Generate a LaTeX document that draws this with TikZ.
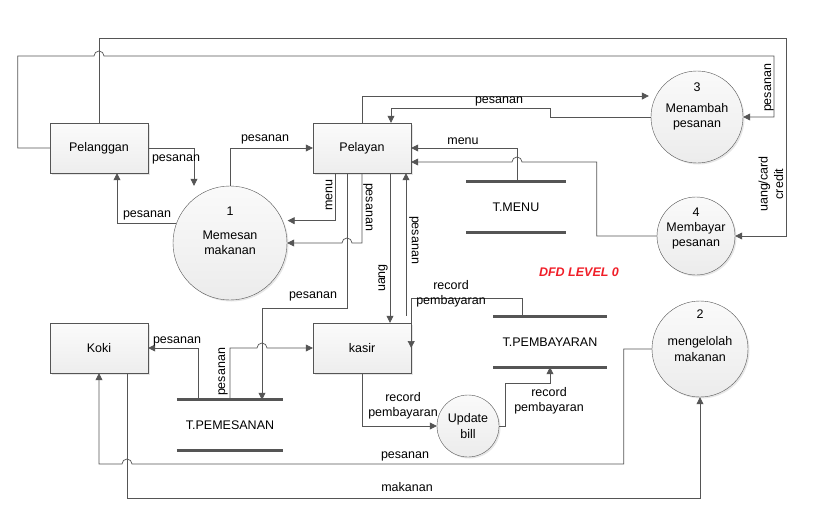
\documentclass[tikz,border=0pt]{standalone}
\usepackage{fontspec}
\setmainfont{Liberation Sans}
\usepackage{xcolor}
\usetikzlibrary{arrows.meta,shadows,calc,positioning}

\definecolor{linegray}{HTML}{555555}
\definecolor{dfdred}{HTML}{F01E28}

\tikzset{
	entity/.style={draw=linegray, minimum width=98pt, minimum height=50pt,
		top color=gray!3, bottom color=gray!14,
		drop shadow={opacity=.2, shadow xshift=1.5pt, shadow yshift=-1.5pt}},
	process/.style={circle, draw=linegray, align=center, inner sep=0pt, minimum size=#1,
		top color=gray!4, bottom color=gray!15,
		drop shadow={opacity=.2, shadow xshift=1.5pt, shadow yshift=-1.5pt}},
	store/.style={minimum width=#1, minimum height=50pt, inner sep=0pt},
	storeline/.style={draw=linegray, line width=3pt},
	flow/.style={draw=linegray, line width=0.7pt, -{Triangle[length=7pt,width=7pt]}},
	lbl/.style={inner sep=0pt, align=center}
}

\begin{document}
\begin{tikzpicture}[x=1pt, y=-1pt, every node/.style={font=\fontsize{12.5pt}{15.5pt}\selectfont}]
		\useasboundingbox (0,0) rectangle (822,527);

		% entities
		\node[entity] (pelanggan) at (99,148) {Pelanggan};
		\node[entity] (pelayan) at (362,148) {Pelayan};
		\node[entity] (koki) at (99,348) {Koki};
		\node[entity] (kasir) at (362,348) {kasir};

		% processes
		\node[process=114pt] (p1) at (230,243) {Memesan\\makanan};
		\node (p1num) at (230,211) {1};
		\node[process=92pt] (p3) at (697,117) {Menambah\\pesanan};
		\node (p3num) at (697,87) {3};
		\node[process=78pt] (p4) at (696,236) {Membayar\\pesanan};
		\node (p4num) at (696,212) {4};
		\node[process=96pt] (p2) at (700,349) {mengelolah\\makanan};
		\node (p2num) at (700,314) {2};
		\node[process=62pt] (bill) at (468,426) {Update\\bill};

		% data stores
		\node[store=99pt] (tmenu) at (516,207) {T.MENU};
		\draw[storeline] (tmenu.north west) -- (tmenu.north east);
		\draw[storeline] (tmenu.south west) -- (tmenu.south east);
		\node[store=106pt] (tpemesanan) at (230,425) {T.PEMESANAN};
		\draw[storeline] (tpemesanan.north west) -- (tpemesanan.north east);
		\draw[storeline] (tpemesanan.south west) -- (tpemesanan.south east);
		\node[store=113pt] (tpembayaran) at (550,342) {T.PEMBAYARAN};
		\draw[storeline] (tpembayaran.north west) -- (tpembayaran.north east);
		\draw[storeline] (tpembayaran.south west) -- (tpembayaran.south east);

		% flows
		\draw[flow] (pelanggan.east) -| ([xshift=-36pt]p1.north);
		\draw[flow] (p1.160) -| ([xshift=18pt]pelanggan.south);
		\draw[flow] (p1.north) |- (pelayan.west);
		\draw[flow, shorten >=5pt] ([xshift=-27pt]pelayan.south) |- (p1.23);
		\draw[flow] (pelayan.south) |- (352,243) arc[start angle=0, end angle=-180, radius=5] -- (p1.east);
		\draw[flow] ([xshift=-15pt]pelayan.south) -- ++(0,135) -| ([xshift=32pt]tpemesanan.north);
		\draw[flow] ([xshift=28pt]pelayan.south) -- ([xshift=28pt]kasir.north);
		\draw[flow, shorten <=7pt] ([xshift=44pt]kasir.north) -- ([xshift=44pt]pelayan.south);
		\draw[flow] ([xshift=-28pt]tpembayaran.north) -- ++(0,-18) -| (kasir.east);
		\draw[flow] (kasir.south) |- (bill.west);
		\draw[flow] (bill.east) -- ++(6,0) -- ++(0,-43) -| (tpembayaran.south);
		\draw[flow] ([xshift=-32pt]tpemesanan.north) |- (koki.east);
		\draw[flow] (tpemesanan.north) |- (257,348) arc[start angle=180, end angle=360, radius=5] -- (kasir.west);
		\draw[flow] ([xshift=28pt]koki.south) -- ++(0,125) -| (p2.south);
		\draw[flow] (p2.west) -- ++(-28,0) |- (132,464) arc[start angle=0, end angle=-180, radius=5] -| (koki.south);
		\draw[flow] (pelanggan.north) |- (786,38) |- (p4.east);
		\draw[flow] (pelanggan.west) -- ++(-32,0) |- (94,56) arc[start angle=180, end angle=360, radius=5] -- (774,56) |- (p3.east);
		\draw[flow, shorten >=7pt] (pelayan.north) |- (p3.153);
		\draw[flow] (p3.west) -- ++(-100,0) -- ++(0,-9) -| ([xshift=29pt]pelayan.north);
		\draw[flow] ([xshift=1pt]tmenu.north) |- (pelayan.east);
		\draw[flow] (p4.west) -- ++(-60,0) |- (522,162) arc[start angle=0, end angle=-180, radius=5] -- ([yshift=-14pt]pelayan.east);

		% labels
		\node[lbl] (l1) at (176,159) {pesanan};
		\node[lbl] (l2) at (147,215) {pesanan};
		\node[lbl] (l3) at (265,139) {pesanan};
		\node[lbl, rotate=90] (l4) at (329,195) {menu};
		\node[lbl, rotate=-90] (l5) at (368,207) {pesanan};
		\node[lbl] (l6) at (313,296) {pesanan};
		\node[lbl, rotate=90] (l7) at (383,278) {uang};
		\node[lbl, rotate=-90] (l8) at (414,240) {pesanan};
		\node[lbl] (l9) at (451,294) {record\\pembayaran};
		\node[lbl] (l10) at (403,406) {record\\pembayaran};
		\node[lbl] (l11) at (549,401) {record\\pembayaran};
		\node[lbl] (l12) at (177,341) {pesanan};
		\node[lbl, rotate=90] (l13) at (223,372) {pesanan};
		\node[lbl] (l14) at (407,487) {makanan};
		\node[lbl] (l15) at (405,456) {pesanan};
		\node[lbl, rotate=90] (l16) at (771,184) {uang/card\\credit};
		\node[lbl, rotate=90] (l17) at (769,88) {pesanan};
		\node[lbl] (l19) at (499,101) {pesanan};
		\node[lbl] (l20) at (463,141) {menu};

		\node[text=dfdred, font=\fontsize{12.5pt}{15.5pt}\bfseries\itshape\selectfont] (title) at (579,272) {DFD LEVEL 0};
	\end{tikzpicture}
\end{document}
